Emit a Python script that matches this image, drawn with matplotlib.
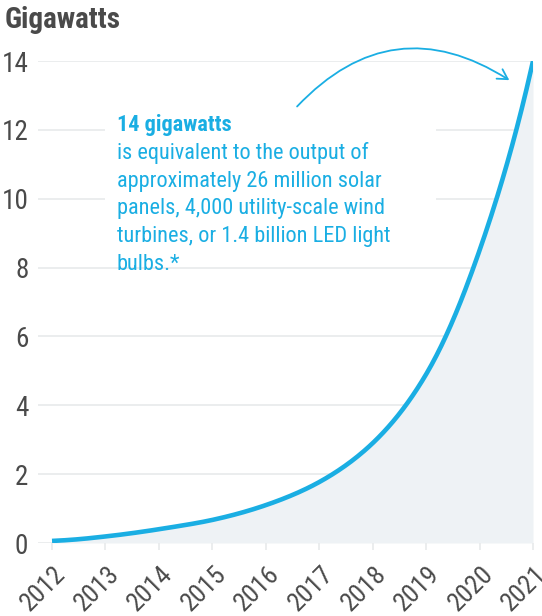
import numpy as np
import matplotlib.pyplot as plt
import matplotlib.transforms as mtrans
from matplotlib import font_manager
from matplotlib.patches import FancyArrowPatch

years = [2012, 2013, 2014, 2015, 2016, 2017, 2018, 2019, 2020, 2021]
gigawatts = [0.06, 0.19, 0.40, 0.67, 1.1, 1.77, 2.9, 4.9, 8.5, 14.0]
y_ticks = [0, 2, 4, 6, 8, 10, 12, 14]

note_title = "14 gigawatts"
note_lines = ["is equivalent to the output of",
              "approximately 26 million solar",
              "panels, 4,000 utility-scale wind",
              "turbines, or 1.4 billion LED light",
              "bulbs.*"]

BLUE = "#1aaee3"
DARK = "#4a4a4a"
GRID = "#e8eaeb"
FILL = "#eef2f5"

# pick a condensed face if one is around
names = {f.name for f in font_manager.fontManager.ttflist}
for fam in ["Roboto Condensed", "Liberation Sans Narrow", "Roboto"]:
    if fam in names:
        plt.rcParams["font.family"] = [fam, "DejaVu Sans"]
        break


def smooth(x, y, n=300):
    # monotone cubic hermite in log space, only to draw a round growth line
    x = np.asarray(x, float)
    y = np.log(np.asarray(y, float))
    h = np.diff(x)
    d = np.diff(y) / h
    m = np.zeros_like(y)
    m[0], m[-1] = d[0], d[-1]
    for i in range(1, len(y) - 1):
        if d[i - 1] * d[i] > 0:
            m[i] = 2 / (1 / d[i - 1] + 1 / d[i])
    xs = np.linspace(x[0], x[-1], n)
    idx = np.clip(np.searchsorted(x, xs) - 1, 0, len(x) - 2)
    t = (xs - x[idx]) / h[idx]
    h00 = 2 * t**3 - 3 * t**2 + 1
    h10 = t**3 - 2 * t**2 + t
    h01 = -2 * t**3 + 3 * t**2
    h11 = t**3 - t**2
    ys = h00 * y[idx] + h10 * h[idx] * m[idx] + h01 * y[idx + 1] + h11 * h[idx] * m[idx + 1]
    return xs, np.exp(ys)


W, H = 542, 616
fig = plt.figure(figsize=(W / 100, H / 100), dpi=100)
ax = fig.add_axes([38 / W, 1 - 543 / H, (533 - 38) / W, (543 - 61) / H])

xs, ys = smooth(years, gigawatts)
ax.fill_between(xs, 0, ys, color=FILL, lw=0, zorder=1)
ax.plot(xs, ys, color=BLUE, lw=3.3, solid_capstyle="butt", zorder=4)

ax.set_xlim(2012 - 14 / 53.4, 2021)
ax.set_ylim(0, 14)
for v in y_ticks:
    ax.axhline(v, color=GRID, lw=1.2, zorder=0)

ax.set_yticks(y_ticks)
ax.set_yticklabels([str(v) for v in y_ticks], fontsize=19.5, color=DARK)
ax.tick_params(axis="y", length=0, pad=7)
ax.set_xticks(years)
ax.set_xticklabels([str(v) for v in years], fontsize=19, color=DARK,
                   rotation=45, ha="right", va="center", rotation_mode="anchor")
ax.tick_params(axis="x", length=5, width=1.2, color=GRID, pad=14.5)
shift = mtrans.ScaledTranslation(10 / 100, 0, fig.dpi_scale_trans)
for lab in ax.get_xticklabels():
    lab.set_transform(lab.get_transform() + shift)
for s in ax.spines.values():
    s.set_visible(False)

fig.text(5 / W, 1 - 28 / H, "Gigawatts", fontsize=21, fontweight="bold",
         color=DARK, va="baseline")

# note block, white box hides the gridlines behind it
ax.add_patch(plt.Rectangle((2012.99, 8.06), 6.2, 4.85, color="white", lw=0, zorder=2))
x0, base, step = 117 / W, 1 - 131 / H, 27.8 / H
fig.text(x0, base, note_title, fontsize=16, fontweight="bold", color=BLUE,
         va="baseline", zorder=6)
for i, line in enumerate(note_lines):
    fig.text(x0, base - (i + 1) * step, line, fontsize=16, color=BLUE,
             va="baseline", zorder=6)

arrow = FancyArrowPatch((2016.55, 12.62), (2020.6, 13.4),
                        connectionstyle="arc3,rad=-0.42", arrowstyle="->,head_length=7,head_width=4",
                        color=BLUE, lw=1.3, clip_on=False, zorder=6, mutation_scale=1)
ax.add_patch(arrow)

fig.savefig("out.png", dpi=100)
